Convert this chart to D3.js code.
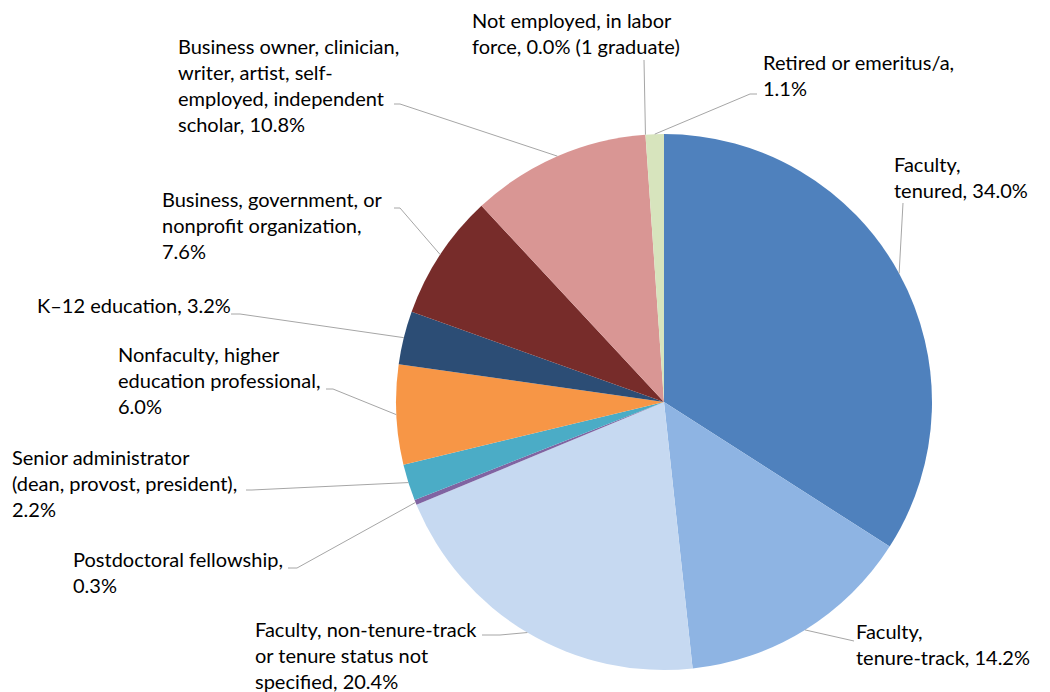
<!DOCTYPE html>
<html>
<head>
<meta charset="utf-8">
<script src="https://cdn.jsdelivr.net/npm/d3@7"></script>
<style>
  body { margin: 0; background: white; }
  svg text { font-family: Lato, "Liberation Sans", sans-serif; font-size: 20px; fill: #000; }
</style>
</head>
<body>
<script>
// categories, clockwise from 12 o'clock
var categories = [
  'Faculty, tenured',
  'Faculty, tenure-track',
  'Faculty, non-tenure-track or tenure status not specified',
  'Postdoctoral fellowship',
  'Senior administrator (dean, provost, president)',
  'Nonfaculty, higher education professional',
  'K\u201312 education',
  'Business, government, or nonprofit organization',
  'Business owner, clinician, writer, artist, self-employed, independent scholar',
  'Not employed, in labor force',
  'Retired or emeritus/a'
];
var percents = [34.0, 14.2, 20.4, 0.3, 2.2, 6.0, 3.2, 7.6, 10.8, 0.0, 1.1];
var labelLines = [
  ['Faculty,', 'tenured, 34.0%'],
  ['Faculty,', 'tenure-track, 14.2%'],
  ['Faculty, non-tenure-track', 'or tenure status not', 'specified, 20.4%'],
  ['Postdoctoral fellowship,', '0.3%'],
  ['Senior administrator', '(dean, provost, president),', '2.2%'],
  ['Nonfaculty, higher', 'education professional,', '6.0%'],
  ['K\u201312 education, 3.2%'],
  ['Business, government, or', 'nonprofit organization,', '7.6%'],
  ['Business owner, clinician,', 'writer, artist, self-', 'employed, independent', 'scholar, 10.8%'],
  ['Not employed, in labor', 'force, 0.0% (1 graduate)'],
  ['Retired or emeritus/a,', '1.1%']
];
var colors = ['#4F81BD', '#8EB4E3', '#C6D9F1', '#8064A2', '#4BACC6', '#F79646',
              '#2C4D75', '#772C2A', '#D99694', '#BFBFBF', '#D7E4BD'];

// label placement: text x, first baseline, leader end x/y, elbow x
var labelLayout = [
  { x: 894, y: 172, lx: 903, ly: 203, ex: 903 },
  { x: 856, y: 639, lx: 854, ly: 641, ex: 854 },
  { x: 255, y: 637, lx: 482, ly: 635, ex: 500 },
  { x: 73,  y: 567, lx: 288, ly: 568, ex: 297 },
  { x: 12,  y: 465, lx: 246, ly: 490, ex: 252 },
  { x: 118, y: 362, lx: 326, ly: 389, ex: 333 },
  { x: 37,  y: 313, lx: 231, ly: 314, ex: 240 },
  { x: 162, y: 207, lx: 394, ly: 208, ex: 400 },
  { x: 178, y: 54,  lx: 394, ly: 104, ex: 400 },
  { x: 472, y: 28,  lx: 644, ly: 60,  ex: 644 },
  { x: 763, y: 70,  lx: 757, ly: 94,  ex: 750 }
];

var W = 1050, H = 692;
var cx = 664, cy = 402, R = 268, lineH = 26;

var svg = d3.select('body').append('svg')
  .attr('width', W)
  .attr('height', H);

var data = categories.map(function (c, i) {
  return { name: c, value: percents[i], color: colors[i], lines: labelLines[i], pos: labelLayout[i] };
});

var pie = d3.pie().sort(null).value(function (d) { return d.value; });
var arc = d3.arc().innerRadius(0).outerRadius(R);
var edge = d3.arc().innerRadius(R).outerRadius(R);

var g = svg.append('g').attr('transform', 'translate(' + cx + ',' + cy + ')');
var arcs = pie(data);

g.selectAll('path.slice')
  .data(arcs)
  .enter().append('path')
  .attr('class', 'slice')
  .attr('d', arc)
  .attr('fill', function (d) { return d.data.color; });

// leader lines from the middle of each slice's rim
svg.selectAll('polyline.leader')
  .data(arcs)
  .enter().append('polyline')
  .attr('class', 'leader')
  .attr('fill', 'none')
  .attr('stroke', '#A6A6A6')
  .attr('stroke-width', 1)
  .attr('points', function (d) {
    var p = edge.centroid(d);
    var l = d.data.pos;
    return [[l.lx, l.ly], [l.ex, l.ly], [cx + p[0], cy + p[1]]].join(' ');
  });

var labels = svg.selectAll('text.label')
  .data(arcs)
  .enter().append('text')
  .attr('class', 'label')
  .attr('x', function (d) { return d.data.pos.x; })
  .attr('y', function (d) { return d.data.pos.y; });

labels.selectAll('tspan')
  .data(function (d) { return d.data.lines.map(function (t) { return { t: t, x: d.data.pos.x }; }); })
  .enter().append('tspan')
  .attr('x', function (d) { return d.x; })
  .attr('dy', function (d, i) { return i === 0 ? 0 : lineH; })
  .text(function (d) { return d.t; });
</script>
</body>
</html>
